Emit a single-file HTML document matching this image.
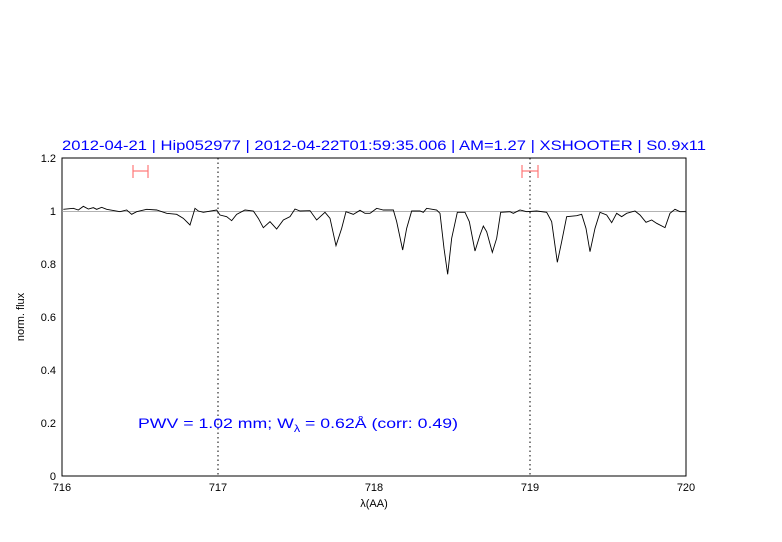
<!DOCTYPE html>
<html><head><meta charset="utf-8"><style>
html,body{margin:0;padding:0;background:#fff;}
svg{display:block;font-family:"Liberation Sans",sans-serif;}
</style></head><body>
<svg width="782" height="542" viewBox="0 0 782 542" xmlns="http://www.w3.org/2000/svg">
<rect width="782" height="542" fill="#fff"/>
<text x="62" y="150" font-size="14" fill="#0000ff" textLength="644" lengthAdjust="spacingAndGlyphs">2012-04-21 | Hip052977 | 2012-04-22T01:59:35.006 | AM=1.27 | XSHOOTER | S0.9x11</text>
<g stroke="#000" stroke-width="1" fill="none">
<rect x="62" y="158" width="624" height="318"/>
<path id="ticks" d=""/>
</g>
<g id="tk" stroke="#000" stroke-width="1"></g>
<line x1="218" y1="158" x2="218" y2="476" stroke="#000" stroke-dasharray="1.5,3"/>
<line x1="530" y1="158" x2="530" y2="476" stroke="#000" stroke-dasharray="1.5,3"/>
<line x1="62" y1="211.5" x2="686" y2="211.5" stroke="#999" stroke-width="0.8"/>
<g stroke="#f77" stroke-width="1.2">
<line x1="133" y1="171" x2="148" y2="171"/><line x1="133" y1="165" x2="133" y2="178"/><line x1="148" y1="165" x2="148" y2="178"/>
<line x1="522" y1="171" x2="538" y2="171"/><line x1="522" y1="165" x2="522" y2="178"/><line x1="538" y1="165" x2="538" y2="178"/>
</g>
<g fill="none" stroke="#000" stroke-width="0.9">
<polyline transform="translate(60,155) scale(0.33333)" vector-effect="non-scaling-stroke" points="10,163 40,160 55,165 70,154 85,162 100,158 110,163 125,157 140,163 180,170 200,165 215,178 230,170 260,163 290,165 320,175 350,178 370,190 390,210 405,160 415,168 430,172 470,165 480,180 500,185 515,197 530,178 555,165 580,168 595,190 610,218 630,200 650,222 670,195 690,185 705,162 720,168 750,167 770,195 795,172 810,190 828,272 845,220 858,170 880,178 900,166 915,175 930,175"/>
<polyline transform="translate(370,155) scale(0.33333)" vector-effect="non-scaling-stroke" points="0,175 20,160 40,165 70,165 80,200 98,285 110,220 125,168 150,168 160,172 170,160 200,165 210,175 222,280 233,358 245,250 262,172 285,172 298,200 315,288 330,240 340,213 350,230 367,292 380,250 392,172 420,170 430,175 450,165 470,170 500,168 530,172 545,200 562,322 575,260 590,185 620,182 635,178 648,220 660,290 675,220 690,172 710,180 725,203 740,175 755,185 770,175 795,168 810,180 828,202 845,195 860,205 885,218 900,175 915,163 930,170 948,170"/>
</g>
<g font-size="11" fill="#000" text-anchor="middle">
<text x="62" y="491">716</text><text x="218" y="491">717</text><text x="374" y="491">718</text><text x="530" y="491">719</text><text x="686" y="491">720</text>
<text x="374" y="507">λ(AA)</text>
</g>
<g font-size="11" fill="#000" text-anchor="end">
<text x="56" y="480">0</text><text x="56" y="427">0.2</text><text x="56" y="374">0.4</text><text x="56" y="321">0.6</text><text x="56" y="268">0.8</text><text x="56" y="215">1</text><text x="56" y="162">1.2</text>
</g>
<text transform="translate(24,317) rotate(-90)" font-size="11" text-anchor="middle">norm. flux</text>
<text x="138" y="428" font-size="14" fill="#0000ff" textLength="320" lengthAdjust="spacingAndGlyphs">PWV = 1.02 mm; W<tspan font-size="10" dy="4">λ</tspan><tspan dy="-4"> = 0.62Å (corr: 0.49)</tspan></text>
<script>
var g=document.getElementById('tk'),s='';
for(var i=0;i<=20;i++){var x=62+i*31.2,L=(i%5==0)?12:6;s+='<line x1="'+x+'" y1="476" x2="'+x+'" y2="'+(476-L)+'"/><line x1="'+x+'" y1="158" x2="'+x+'" y2="'+(158+L)+'"/>';}
for(var j=0;j<=24;j++){var y=476-j*13.25,L=(j%4==0)?12:6;s+='<line x1="62" y1="'+y+'" x2="'+(62+L)+'" y2="'+y+'"/><line x1="686" y1="'+y+'" x2="'+(686-L)+'" y2="'+y+'"/>';}
g.innerHTML=s;
</script>
</svg>
</body></html>
